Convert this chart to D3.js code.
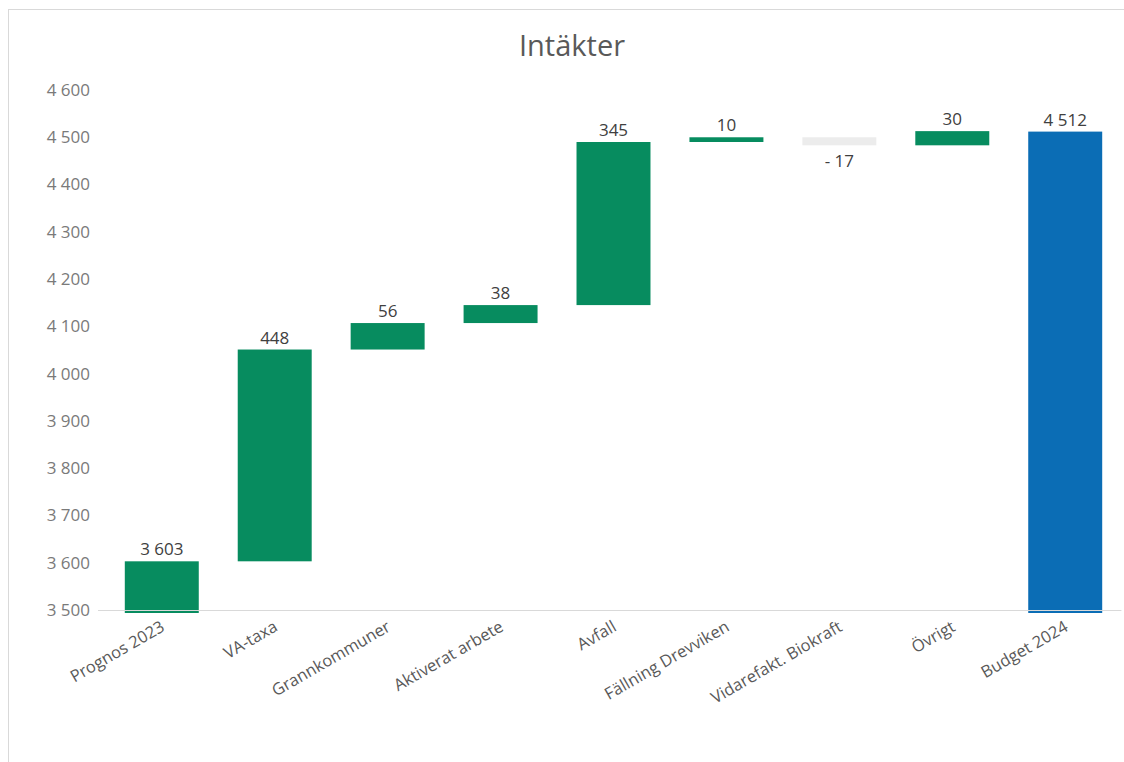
<!DOCTYPE html>
<html>
<head>
<meta charset="utf-8">
<script src="https://cdn.jsdelivr.net/npm/d3@7"></script>
<style>
  body { margin: 0; background: #fff; }
  text { font-family: "Open Sans", "Noto Sans", sans-serif; }
</style>
</head>
<body>
<svg id="chart" width="1124" height="762"></svg>
<script>
// data
var categories = ["Prognos 2023", "VA-taxa", "Grannkommuner", "Aktiverat arbete", "Avfall",
                  "Fällning Drevviken", "Vidarefakt. Biokraft", "Övrigt", "Budget 2024"];
var values = [3603, 448, 56, 38, 345, 10, -17, 30, 4512];
var kinds = ["total", "delta", "delta", "delta", "delta", "delta", "delta", "delta", "total"];
var yTicks = [3500, 3600, 3700, 3800, 3900, 4000, 4100, 4200, 4300, 4400, 4500, 4600];

var WIDTH = 1124, HEIGHT = 762;
var LEFT = 105.6, RIGHT = 1121.4, TOP = 90, BOTTOM = 610;
var BASE = 3500;

var svg = d3.select("#chart");

// outer chart border
svg.append("rect")
   .attr("x", 8.5).attr("y", 9.5)
   .attr("width", 1300).attr("height", 900)
   .attr("fill", "none")
   .attr("stroke", "#d9d9d9");

// title
svg.append("text")
   .text("Intäkter")
   .attr("x", 572).attr("y", 56)
   .attr("text-anchor", "middle")
   .attr("font-size", "29px")
   .attr("fill", "#595959");

var x = d3.scaleBand().domain(categories).range([LEFT, RIGHT]).paddingInner(0.345).paddingOuter(0.17);
var y = d3.scaleLinear().domain([3500, 4600]).range([BOTTOM, TOP]);

// build waterfall steps
var steps = [];
var running = 0;
for (var i = 0; i < categories.length; i++)
{
  var s;
  if (kinds[i] == "total")
  {
    s = { cat: categories[i], v: values[i], lo: BASE, hi: values[i], kind: "total", idx: i };
    running = values[i];
  }
  else
  {
    var start = running;
    running = running + values[i];
    s = { cat: categories[i], v: values[i], lo: Math.min(start, running), hi: Math.max(start, running),
          kind: values[i] < 0 ? "neg" : "pos", idx: i };
  }
  steps.push(s);
}

function barColor(d)
{
  if (d.kind == "neg") return "#ececec";
  if (d.kind == "total" && d.idx == categories.length - 1) return "#0b6db5";
  return "#078c5f";
}

function fmt(v)
{
  return d3.format(",")(v).replace(",", " ");
}

// y axis labels
var yAxis = d3.axisLeft(y).tickValues(yTicks).tickSize(0).tickPadding(0).tickFormat(fmt);
var gy = svg.append("g").attr("transform", "translate(90,0)").call(yAxis);
gy.select(".domain").remove();
gy.selectAll("text").attr("font-size", "17px").attr("fill", "#7a7a7a")
  .attr("font-family", "'Open Sans', sans-serif");

// bars
svg.selectAll(".bar")
   .data(steps)
   .enter().append("rect")
   .attr("class", "bar")
   .attr("x", function(d) { return x(d.cat); })
   .attr("width", x.bandwidth())
   .attr("y", function(d) { return y(d.hi); })
   .attr("height", function(d) { return Math.max(2, y(d.lo) - y(d.hi) + (d.kind == "total" ? 3 : 0)); })
   .attr("fill", barColor);

// x axis line
svg.append("line")
   .attr("x1", 98).attr("x2", RIGHT)
   .attr("y1", y(BASE) + 0.5).attr("y2", y(BASE) + 0.5)
   .attr("stroke", "#d9d9d9").attr("stroke-width", 1.2);

// data labels
svg.selectAll(".lbl")
   .data(steps)
   .enter().append("text")
   .attr("class", "lbl")
   .text(function(d) {
      return d.v < 0 ? "- " + fmt(Math.abs(d.v)) : fmt(d.v);
   })
   .attr("x", function(d) { return x(d.cat) + x.bandwidth() / 2; })
   .attr("y", function(d) { return d.kind == "neg" ? y(d.lo) + 22 : y(d.hi) - 6; })
   .attr("text-anchor", "middle")
   .attr("font-size", "17px")
   .attr("fill", "#404040");

// category labels
svg.selectAll(".cat")
   .data(categories)
   .enter().append("text")
   .attr("class", "cat")
   .text(function(d) { return d; })
   .attr("transform", function(d) {
      var cx = x(d) + x.bandwidth() / 2 + 4;
      return "translate(" + cx + "," + 630 + ") rotate(-30)";
   })
   .attr("text-anchor", "end")
   .attr("font-size", "16.5px")
   .attr("fill", "#595959");
</script>
</body>
</html>
